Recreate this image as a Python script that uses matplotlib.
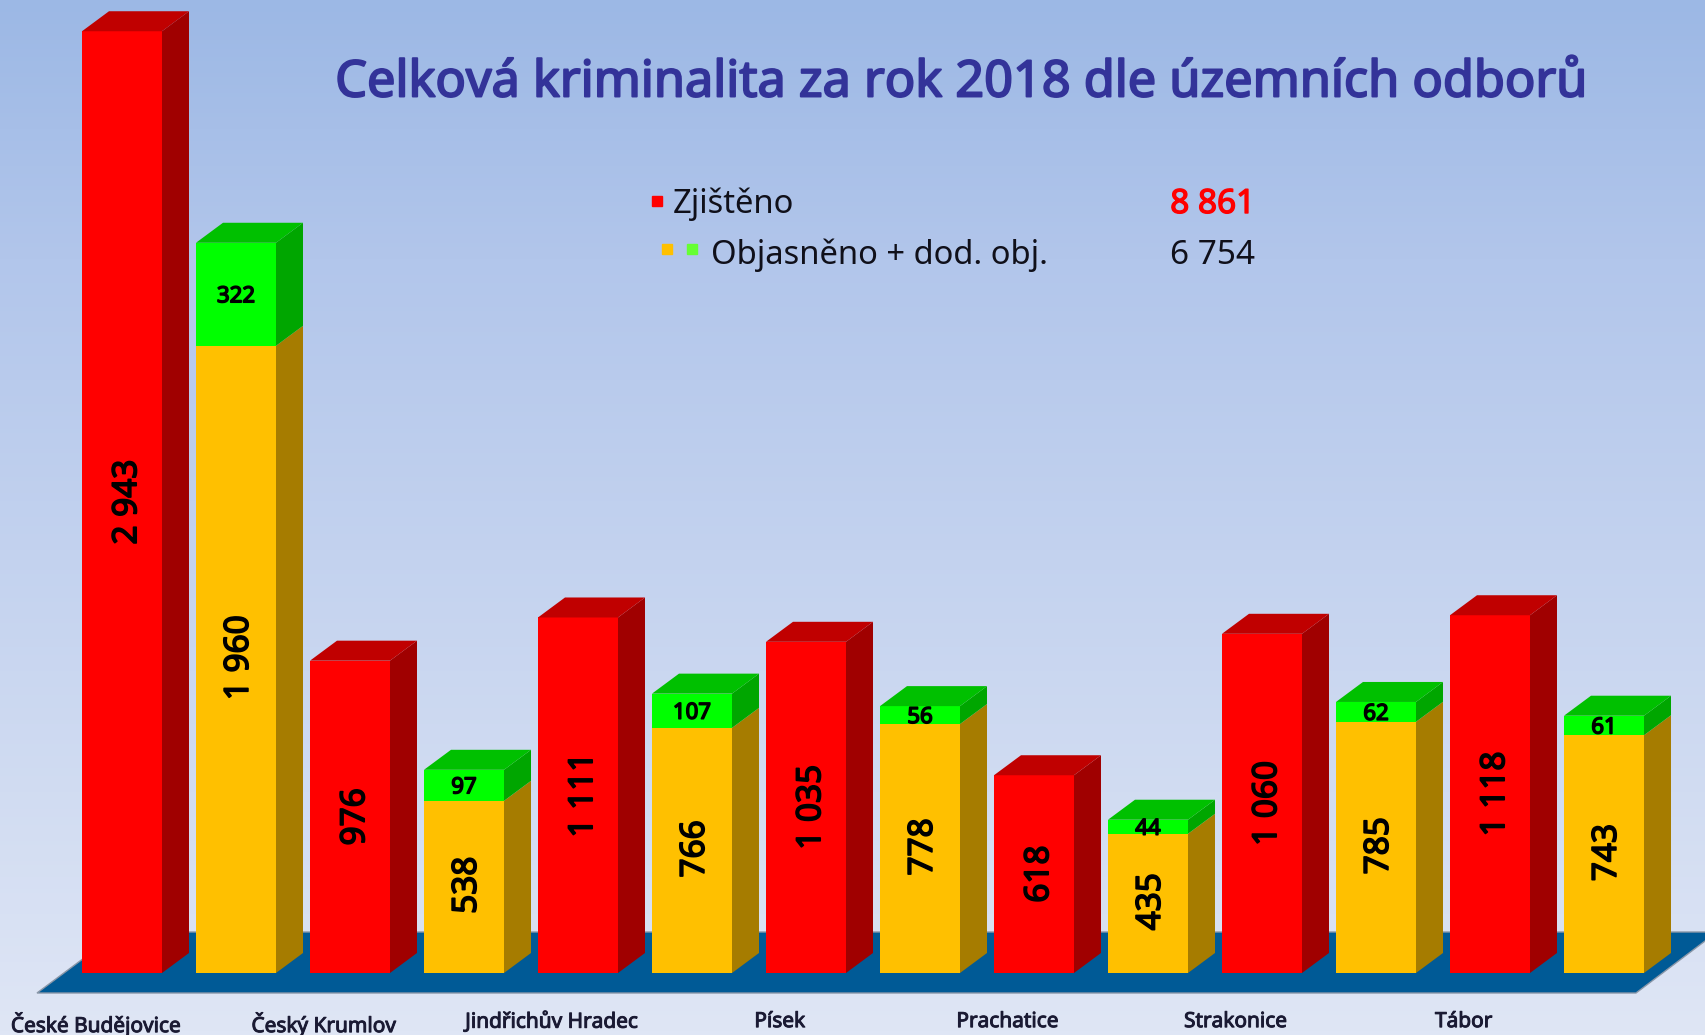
# Criminality per district, fake 3D stacked bars
import matplotlib
matplotlib.use("Agg")
import matplotlib.pyplot as plt
import matplotlib.patheffects as pe
from matplotlib.colors import LinearSegmentedColormap
from matplotlib.patches import Polygon
import numpy as np

districts = ["České Budějovice", "Český Krumlov", "Jindřichův Hradec", "Písek",
             "Prachatice", "Strakonice", "Tábor"]
zjisteno = [2943, 976, 1111, 1035, 618, 1060, 1118]
objasneno = [1960, 538, 766, 778, 435, 785, 743]
dodatecne = [322, 97, 107, 56, 44, 62, 61]

title = "Celková kriminalita za rok 2018 dle územních odborů"
legend_names = ["Zjištěno", "Objasněno + dod. obj."]

W, H = 1706, 1035
PX_X = 114.0  # pixels per slot
PX_Y = 0.32  # pixels per case
BASE = 973  # baseline row
AX_BOTTOM = 1000
BAR_W = 80 / PX_X
DX = 27 / PX_X
DY = 20 / PX_Y
FONT = "Noto Sans"


def fmt(v):
    return f"{v:,}".replace(",", " ")


def heavy(color, lw):
    # the bold face does not come through, so thicken the regular one
    return [pe.withStroke(linewidth=lw, foreground=color)]


def box(ax, x, y0, y1, front, side, top=None):
    l, r = x - BAR_W / 2, x + BAR_W / 2
    ax.bar(x, y1 - y0, BAR_W, bottom=y0, color=front, zorder=3 + x / 100)
    ax.add_patch(Polygon([(r, y0), (r + DX, y0 + DY), (r + DX, y1 + DY), (r, y1)],
                         color=side, lw=0, zorder=3 + x / 100))
    if top:
        ax.add_patch(Polygon([(l, y1), (l + DX, y1 + DY), (r + DX, y1 + DY), (r, y1)],
                             color=top, lw=0, zorder=3 + x / 100))


fig = plt.figure(figsize=(W / 100, H / 100), dpi=100)

# background gradient
bg = fig.add_axes((0, 0, 1, 1), zorder=0)
cmap = LinearSegmentedColormap.from_list(
    "bg", [(0, "#9CB8E5"), (0.25, "#B2C6EB"), (1, "#DFE6F5")])
bg.imshow(np.linspace(0, 1, 256).reshape(-1, 1), aspect="auto", cmap=cmap)
bg.axis("off")

ax = fig.add_axes((0, (H - AX_BOTTOM) / H, 1, AX_BOTTOM / H), zorder=1)
ax.patch.set_alpha(0)
ax.set_xlim(-122 / PX_X, (W - 122) / PX_X)
ax.set_ylim(-(AX_BOTTOM - BASE) / PX_Y, BASE / PX_Y)
for s in ax.spines.values():
    s.set_visible(False)
ax.set_yticks([])

# floor
y_front = -20 / PX_Y
y_back = 41 / PX_Y
ax.add_patch(Polygon([(-85 / PX_X, y_front), (1514 / PX_X, y_front),
                      (1595 / PX_X, y_back), (-3 / PX_X, y_back)],
                     facecolor="#005A96", edgecolor="#8A97A8", lw=1, zorder=1))

for i in range(len(districts)):
    xr = 2 * i
    xo = 2 * i + 1
    box(ax, xr, 0, zjisteno[i], "#FF0000", "#A00000", "#C00000")
    ax.text(xr + 0.05, zjisteno[i] / 2, fmt(zjisteno[i]), rotation=90, ha="center",
            va="center", fontsize=24, family=FONT, zorder=5, path_effects=heavy("black", 1.2))

    top = objasneno[i] + dodatecne[i]
    box(ax, xo, 0, objasneno[i], "#FFC000", "#A67C00")
    box(ax, xo, objasneno[i], top, "#00FF00", "#00A600", "#00C000")
    ax.text(xo + 0.03, objasneno[i] / 2 + 5, fmt(objasneno[i]), rotation=90, ha="center",
            va="center", fontsize=24, family=FONT, zorder=5, path_effects=heavy("black", 1.2))
    ax.text(xo, objasneno[i] + dodatecne[i] / 2, fmt(dodatecne[i]), ha="center",
            va="center_baseline", fontsize=16, family=FONT, zorder=5,
            path_effects=heavy("black", 1.1))

ax.set_xticks([2 * i - 0.23 for i in range(len(districts))], districts,
              fontsize=15, family=FONT, color="#1A1A33",
              path_effects=heavy("#1A1A33", 0.7))
ax.tick_params(axis="x", length=0, pad=8)

# title and legend text in pixel rows
fig.text(961 / W, 1 - 83 / H, title, ha="center", va="center", fontsize=36.3,
         family=FONT, color="#333399", path_effects=heavy("#333399", 1.4))
fig.text(673 / W, 1 - 213 / H, legend_names[0], fontsize=23.6, family=FONT, color="#10101A")
fig.text(711 / W, 1 - 264 / H, legend_names[1], fontsize=23.6, family=FONT, color="#10101A")
fig.text(1255 / W, 1 - 213 / H, fmt(sum(zjisteno)), ha="right", fontsize=24, family=FONT,
         color="#FF0000", path_effects=heavy("#FF0000", 1))
fig.text(1255 / W, 1 - 264 / H, fmt(sum(objasneno) + sum(dodatecne)), ha="right", fontsize=24,
         family=FONT, color="#10101A")

# legend markers
for px, py, c in [(657, 201, "#FF0000"), (667, 249, "#FFC000"), (692, 249, "#66FF33")]:
    fig.patches.append(plt.Rectangle(((px - 5) / W, 1 - (py + 5) / H), 10 / W, 10 / H,
                                     color=c, transform=fig.transFigure, figure=fig))

fig.savefig("out.png", dpi=100)
